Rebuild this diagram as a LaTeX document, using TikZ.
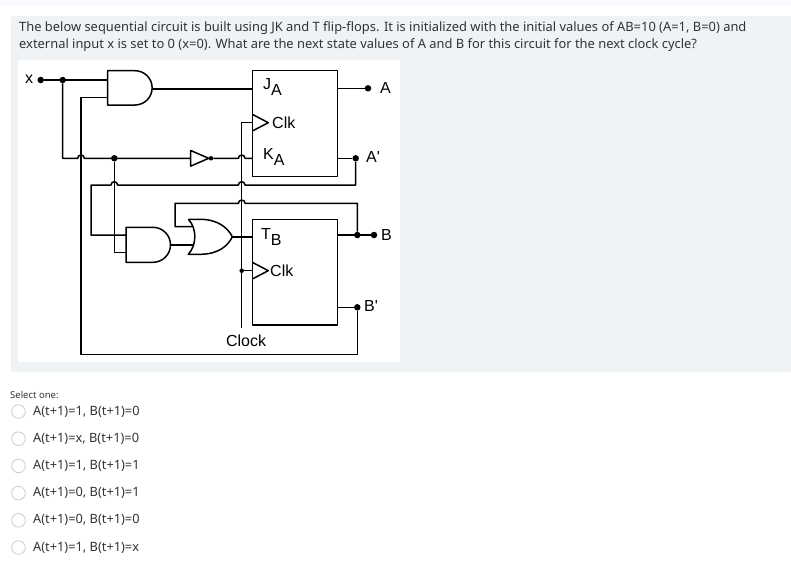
\documentclass[tikz,border=0pt]{standalone}
\usepackage{fontspec}
\setmainfont{Noto Sans}
\newfontfamily\arialf{Liberation Sans}
\begin{document}
\begin{tikzpicture}[x=1pt,y=-1pt,
  w/.style={line width=1.5pt,line join=round},
  dot/.style={circle,fill=black,inner sep=0pt,minimum size=6.5pt},
  lab/.style={font=\arialf\fontsize{16}{16}\selectfont,inner sep=0pt},
  q/.style={font=\fontsize{12.9}{17}\selectfont,anchor=west,inner sep=0pt,text=black!80},
  opt/.style={font=\fontsize{12.8}{15}\selectfont,anchor=west,inner sep=0pt,text=black!80},
  rad/.style={draw=black!20,fill=white,line width=0.8pt}]
\useasboundingbox (0,0) rectangle (791,568);
\fill[white] (0,0) rectangle (791,568);
\fill[black!5!blue!2!white] (0,0) rectangle (791,6);
\fill[rounded corners=2pt,fill={rgb,255:red,239;green,243;blue,246}] (11,16) rectangle (791,372);
\fill[white] (18,60) rectangle (400,362);
\node[q] (t1) at (19,28) {The below sequential circuit is built using JK and T flip-flops. It is initialized with the initial values of AB=10 (A=1, B=0) and};
\node[q] (t2) at (19,45) {external input x is set to 0 (x=0). What are the next state values of A and B for this circuit for the next clock cycle?};
% flip-flops
\draw[w] (252.3,70.7) rectangle (337.3,176.7);
\draw[w] (252.3,219.3) rectangle (337.3,325);
\draw[w] (252.3,114.3) -- (268.3,122.7) -- (252.3,131);
\draw[w] (252.3,262.3) -- (268.3,270.7) -- (252.3,279);
\node[lab,anchor=west] (ja) at (263,87) {J\raisebox{-6pt}{A}};
\node[lab,anchor=west] (ka) at (263,157) {K\raisebox{-6pt}{A}};
\node[lab,anchor=west] (tb) at (261,237) {T\raisebox{-6pt}{B}};
\node[lab,anchor=west] (c1) at (272,123) {Clk};
\node[lab,anchor=west] (c2) at (270,271) {Clk};
% gates
\draw[w] (107.7,70.7) -- (135,70.7) arc (-90:90:17.15) -- (107.7,105) -- cycle;
\draw[w] (126,227.3) -- (153,227.3) arc (-90:90:17.5) -- (126,262.3) -- cycle;
\draw[w] (188.3,219.3) -- (200,219.3) .. controls (218,219.3) and (228,228) .. (232.3,236.8) .. controls (228,246) and (218,254.3) .. (200,254.3) -- (188.3,254.3) .. controls (197,245) and (197,228) .. (188.3,219.3);
\draw[w] (190.7,150.5) -- (208.7,158.3) -- (190.7,166.1) -- cycle;
% dots and terminals
\node[dot] (xin) at (40.7,80) {};
\node[dot] (j1) at (62.7,80) {};
\node[dot] (j2) at (114.3,158.3) {};
\node[dot,minimum size=4.5pt] (inv) at (211,158.3) {};
\node[dot] (aout) at (368,88.3) {};
\node[dot] (apr) at (355.7,158.3) {};
\node[dot] (bj) at (357.3,235) {};
\node[dot] (bout) at (374,235) {};
\node[dot] (bpr) at (357.3,307.3) {};
\node[dot,minimum size=4.5pt] (ck) at (241.7,270.7) {};
\node[lab] (lx) at (29,79) {x};
\node[lab,anchor=west] (la) at (380,88) {A};
\node[lab,anchor=west] (lap) at (366,157) {A'};
\node[lab,anchor=west] (lb) at (381,235) {B};
\node[lab,anchor=west] (lbp) at (364,306) {B'};
\node[lab] (lck) at (246,341) {Clock};
% wires
\draw[w] (xin) -- (107.7,80);
\draw[w] (152,89) -- (252.3,89);
\draw[w] (337.3,88.3) -- (aout);
\draw[w] (337.3,158.3) -- (apr);
\draw[w] (337.3,235) -- (bout);
\draw[w] (337.3,307.3) -- (bpr);
\draw[w] (j1) -- (62.7,158.3) -- (77.7,158.3) arc (180:360:3.3) -- (190.7,158.3);
\draw[w] (inv) -- (238.4,158.3) arc (180:360:3.3) -- (252.3,158.3);
\draw[w] (bpr) -- (357.3,354.3) -- (81,354.3) -- (81,97.3) -- (107.7,97.3);
\draw[w] (j2) -- (114.3,252.7) -- (126,252.7);
\draw[w] (apr) -- (355.7,185) -- (245,185) arc (0:-180:3.3) -- (117.6,185) arc (0:-180:3.3) -- (91,185) -- (91,235) -- (126,235);
\draw[w] (bj) -- (357.3,203.3) -- (245,203.3) arc (0:-180:3.3) -- (175,203.3) -- (175,226.7) -- (192.5,226.7);
\draw[w] (170.7,245) -- (193,245);
\draw[w] (232.3,236.8) -- (252.3,236.8);
\draw[w] (241.7,328) -- (241.7,122.7) -- (252.3,122.7);
\draw[w] (ck) -- (252.3,270.7);
% options
\node[font=\fontsize{9.5}{11}\selectfont,anchor=west,inner sep=0pt,text=black!80] (sel) at (10,395) {Select one:};
\foreach \i/\t in {0/{A(t+1)=1, B(t+1)=0},1/{A(t+1)=x, B(t+1)=0},2/{A(t+1)=1, B(t+1)=1},3/{A(t+1)=0, B(t+1)=1},4/{A(t+1)=0, B(t+1)=0},5/{A(t+1)=1, B(t+1)=x}}{
  \draw[rad] (18.5,411.5+27.2*\i) circle (6.8);
  \node[opt] (o\i) at (33,411.5+27.2*\i) {\t};
}
\end{tikzpicture}
\end{document}
